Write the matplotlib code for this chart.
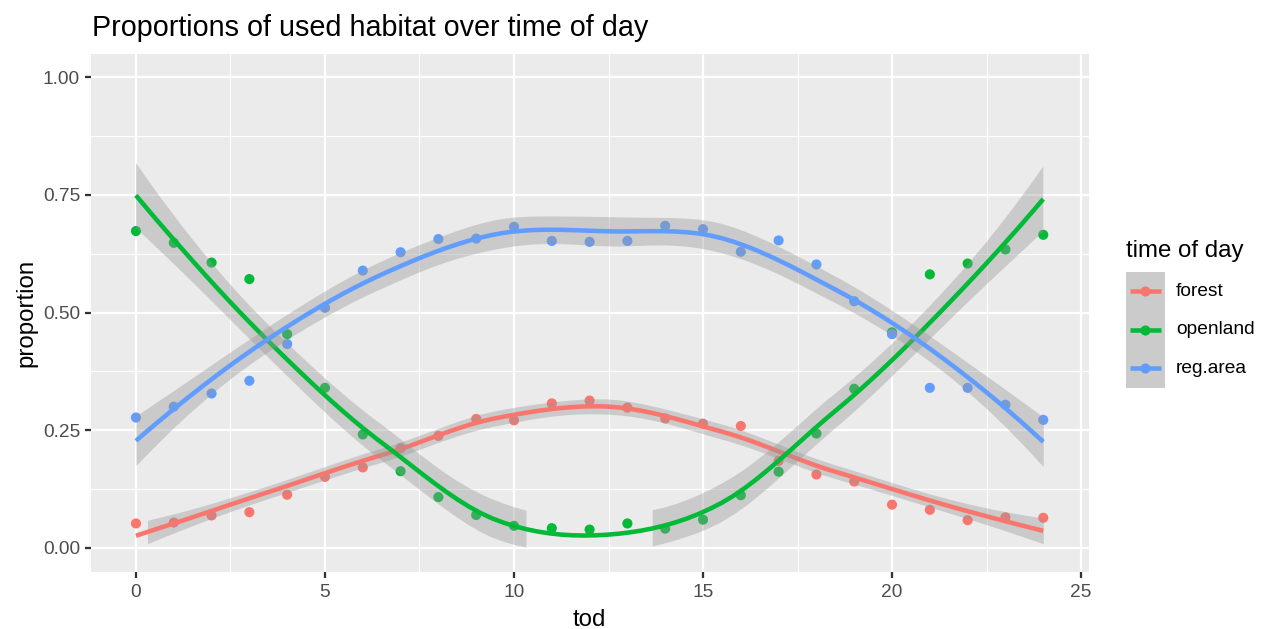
import numpy as np
import matplotlib
matplotlib.use("Agg")
import matplotlib.pyplot as plt
from matplotlib.patches import Rectangle

# ---------------- data ----------------
tod = list(range(25))
habitats = ["forest", "openland", "reg.area"]
forest = [0.052, 0.054, 0.069, 0.076, 0.113, 0.151, 0.171, 0.212, 0.238, 0.274,
          0.271, 0.307, 0.313, 0.298, 0.275, 0.264, 0.259, 0.185, 0.156, 0.141,
          0.092, 0.081, 0.059, 0.065, 0.064]
openland = [0.673, 0.648, 0.606, 0.571, 0.454, 0.340, 0.241, 0.163, 0.108, 0.070,
            0.047, 0.042, 0.039, 0.052, 0.041, 0.060, 0.112, 0.162, 0.243, 0.338,
            0.458, 0.581, 0.604, 0.634, 0.665]
reg_area = [0.277, 0.300, 0.328, 0.355, 0.433, 0.510, 0.589, 0.628, 0.656, 0.657,
            0.682, 0.652, 0.650, 0.652, 0.684, 0.677, 0.629, 0.653, 0.602, 0.524,
            0.454, 0.340, 0.340, 0.304, 0.272]
series = [forest, openland, reg_area]
colors = ["#F8766D", "#00BA38", "#619CFF"]
x_ticks = [0, 5, 10, 15, 20, 25]
y_ticks = [0.00, 0.25, 0.50, 0.75, 1.00]
y_ticklabels = ["0.00", "0.25", "0.50", "0.75", "1.00"]
title = "Proportions of used habitat over time of day"
xlabel = "tod"
ylabel = "proportion"
legend_title = "time of day"


# ---------------- loess (degree 2, span 0.75, kd-tree interpolation) ----------------
def local_rows(x, x0, span=0.75):
    n = len(x)
    q = int(np.floor(n * span))
    d = np.abs(x - x0)
    h = np.sort(d)[q - 1]
    u = np.clip(d / h, 0, 1)
    w = (1 - u ** 3) ** 3
    X = np.column_stack([np.ones(n), x - x0, (x - x0) ** 2])
    XtW = X.T * w
    B = np.linalg.solve(XtW @ X, XtW)
    return B[0], B[1]  # value row, slope row


def kd_vertices(x, span=0.75, cell=0.2):
    xs = np.sort(x)
    n = len(xs)
    fc = int(np.floor(n * span * cell))
    margin = 0.005 * (xs[-1] - xs[0])
    verts = [xs[0] - margin, xs[-1] + margin]

    def split(pts):
        if len(pts) <= fc:
            return
        m = (len(pts) + 1) // 2
        v = (pts[m - 1] + pts[m]) / 2
        verts.append(v)
        split(pts[:m])
        split(pts[m:])

    split(xs)
    return np.array(sorted(verts))


def interp_operator(x, xq, span=0.75):
    V = kd_vertices(x, span)
    vals, slopes = zip(*[local_rows(x, v, span) for v in V])
    vals = np.array(vals)
    slopes = np.array(slopes)
    out = []
    for x0 in xq:
        k = int(np.clip(np.searchsorted(V, x0) - 1, 0, len(V) - 2))
        h = V[k + 1] - V[k]
        t = (x0 - V[k]) / h
        h00 = 2 * t ** 3 - 3 * t ** 2 + 1
        h10 = t ** 3 - 2 * t ** 2 + t
        h01 = -2 * t ** 3 + 3 * t ** 2
        h11 = t ** 3 - t ** 2
        out.append(h00 * vals[k] + h10 * h * slopes[k]
                   + h01 * vals[k + 1] + h11 * h * slopes[k + 1])
    return np.array(out)


def t_quantile_975(nu):
    z = 1.959963984540054
    g1 = (z ** 3 + z) / 4
    g2 = (5 * z ** 5 + 16 * z ** 3 + 3 * z) / 96
    g3 = (3 * z ** 7 + 19 * z ** 5 + 17 * z ** 3 - 15 * z) / 384
    g4 = (79 * z ** 9 + 776 * z ** 7 + 1482 * z ** 5 - 1920 * z ** 3 - 945 * z) / 92160
    return z + g1 / nu + g2 / nu ** 2 + g3 / nu ** 3 + g4 / nu ** 4


def smooth(x, y, xg):
    x = np.asarray(x, float)
    y = np.asarray(y, float)
    n = len(x)
    L = interp_operator(x, x)
    IL = np.eye(n) - L
    M = IL.T @ IL
    d1 = np.trace(M)
    d2 = np.trace(M @ M)
    res = y - L @ y
    s = np.sqrt(np.sum(res ** 2) / d1)
    Lg = interp_operator(x, xg)
    fit = Lg @ y
    se = s * np.sqrt(np.sum(Lg ** 2, axis=1))
    t = t_quantile_975(d1 ** 2 / d2)
    return fit, fit - t * se, fit + t * se


# ---------------- figure ----------------
W, H, DPI = 1269, 629, 100
fig = plt.figure(figsize=(W / DPI, H / DPI), dpi=DPI)
fig.patch.set_facecolor("white")
plt.rcParams["font.family"] = ["Liberation Sans", "DejaVu Sans"]

k = 1.53   # ggplot pt -> mpl pt (lines)
kt = 1.57  # ggplot pt -> mpl pt (text)
px_l, px_r, px_t, px_b = 90.6, 1088.6, 53.5, 571.5
ax = fig.add_axes([px_l / W, 1 - px_b / H, (px_r - px_l) / W, (px_b - px_t) / H])
ax.set_facecolor("#EBEBEB")
for sp in ax.spines.values():
    sp.set_visible(False)

ax.set_xlim(-1.2, 25.2)
ax.set_ylim(-0.05, 1.05)
ax.set_xticks(x_ticks)
ax.set_xticklabels([str(v) for v in x_ticks])
ax.set_yticks(y_ticks)
ax.set_yticklabels(y_ticklabels)
ax.set_xticks([2.5, 7.5, 12.5, 17.5, 22.5], minor=True)
ax.set_yticks([0.125, 0.375, 0.625, 0.875], minor=True)
ax.grid(which="major", color="white", linewidth=1.07 * k)
ax.grid(which="minor", color="white", linewidth=0.53 * k)
ax.set_axisbelow(True)
ax.tick_params(which="major", length=2.75 * k, width=1.07 * k, color="#333333",
               labelcolor="#4D4D4D", labelsize=8.8 * kt, pad=2.2 * k)
ax.tick_params(axis="x", which="major", pad=2.2 * k + 1.5)
ax.tick_params(which="minor", length=0)

ax.set_xlabel(xlabel, fontsize=11 * kt, color="black", labelpad=2.5 * k + 2)
ax.set_ylabel(ylabel, fontsize=11 * kt, color="black", labelpad=2.5 * k)
fig.text(92 / W, 1 - 36 / H, title, fontsize=13.2 * kt, color="black",
         ha="left", va="baseline")

xv = np.asarray(tod, float)
# points first
for ys, c in zip(series, colors):
    ax.scatter(xv, ys, s=(7.3) ** 2, color=c, edgecolors="none", zorder=3)

# smooths
xg = np.linspace(xv.min(), xv.max(), 80)
for i, (ys, c) in enumerate(zip(series, colors)):
    fit, lo, hi = smooth(xv, ys, xg)
    ok = (lo >= 0) & (hi <= 1)
    ax.fill_between(xg, lo, hi, where=ok, interpolate=False,
                    color="#999999", alpha=0.4, linewidth=0, zorder=4 + 2 * i)
    ax.plot(xg, fit, color=c, linewidth=2.13 * k, zorder=5 + 2 * i,
            solid_capstyle="butt")

# ---------------- legend (pixel coordinates) ----------------
lg = fig.add_axes([0, 0, 1, 1], facecolor="none")
lg.set_xlim(0, W)
lg.set_ylim(H, 0)
lg.axis("off")
lg.text(1126, 257, legend_title, fontsize=11 * kt, color="black",
        ha="left", va="baseline")
key_x0, key_w, key_top, key_h = 1126, 38.5, 272, 38.5
lg.add_patch(Rectangle((key_x0, key_top), key_w, key_h * len(habitats),
                       facecolor="#CBCBCB", edgecolor="none"))
for j, (name, c) in enumerate(zip(habitats, colors)):
    yc = key_top + key_h * (j + 0.5)
    lg.plot([key_x0 + 3.5, key_x0 + key_w - 3.5], [yc, yc], color=c,
            linewidth=2.13 * k, solid_capstyle="butt")
    lg.plot([key_x0 + key_w / 2], [yc], "o", color=c, markersize=7.3,
            markeredgewidth=0)
    lg.text(1176, yc, name, fontsize=8.8 * kt, color="black",
            ha="left", va="center")

fig.savefig("out.png", dpi=DPI)
